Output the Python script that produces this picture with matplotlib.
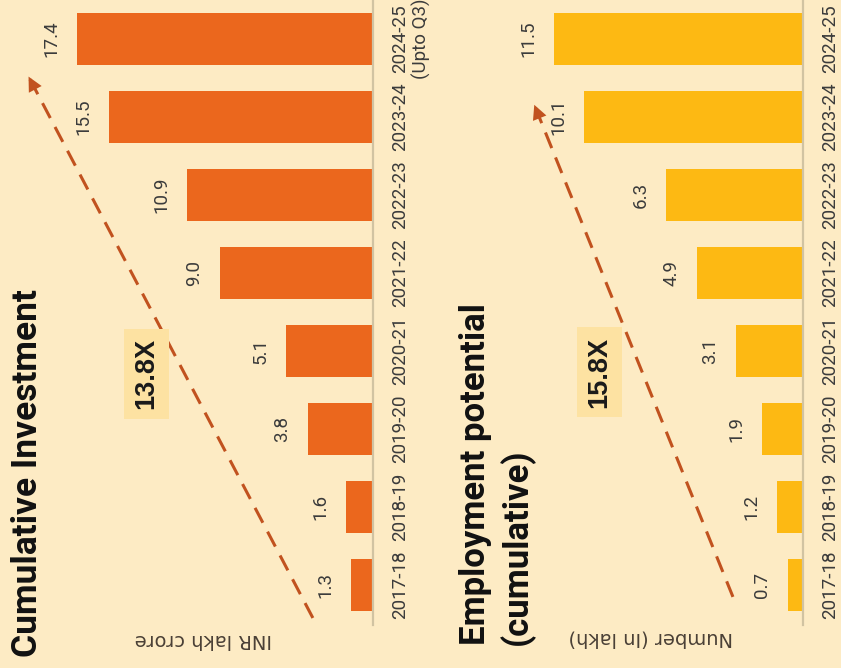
import matplotlib
matplotlib.use('Agg')
import matplotlib.pyplot as plt
from matplotlib import font_manager

# Data
years = ['2017-18', '2018-19', '2019-20', '2020-21', '2021-22',
         '2022-23', '2023-24', '2024-25']
invest = [1.3, 1.6, 3.8, 5.1, 9.0, 10.9, 15.5, 17.4]
jobs = [0.7, 1.2, 1.9, 3.1, 4.9, 6.3, 10.1, 11.5]
invest_growth = '13.8X'
jobs_growth = '15.8X'

BG = '#fdebc4'
ORANGE = '#eb671d'
YELLOW = '#fdb913'
ARROW = '#c1521f'
BOX = '#fde2a2'
BASE = '#d1c3a2'
TXT = '#3b3b3b'

names = {f.name for f in font_manager.fontManager.ttflist}
FONT = 'Roboto' if 'Roboto' in names else 'DejaVu Sans'
BOLD = 'Liberation Sans' if 'Liberation Sans' in names else 'DejaVu Sans'

fig = plt.figure(figsize=(8.41, 6.68), dpi=100, facecolor=BG)


def panel(rect, values, color, xmax, growth, arrow_start, arrow_end, box_at, last_label):
    """One horizontal bar panel, drawn so that it reads rotated by 90 degrees."""
    ax = fig.add_axes(rect)
    ax.set_facecolor(BG)
    pos = range(len(years))
    ax.barh(pos, values, height=0.67, color=color)
    ax.set_xlim(xmax, 0)
    ax.set_ylim(-0.51, 7.5)

    for s in ['top', 'left', 'bottom']:
        ax.spines[s].set_visible(False)
    ax.spines['right'].set_color(BASE)
    ax.spines['right'].set_linewidth(1.6)
    ax.set_xticks([])

    ax.yaxis.tick_right()
    ax.set_yticks(list(pos))
    ax.set_yticklabels(years[:-1] + [last_label], rotation=90, va='center', ha='left',
                       multialignment='center', fontsize=13.5,
                       family=FONT, color=TXT)
    ax.tick_params(axis='y', length=0, pad=13)

    for i, v in enumerate(values):
        ax.annotate(f'{v:.1f}', (v, i), xytext=(-12, 0), textcoords='offset points',
                    ha='right', va='center', rotation=90, fontsize=13.5,
                    family=FONT, color=TXT)

    # dashed growth arrow
    ax.plot([arrow_start[0], arrow_end[0]], [arrow_start[1], arrow_end[1]],
            ls=(0, (5.5, 3.3)), lw=2.2, color=ARROW, clip_on=False)
    dx = (arrow_end[0] - arrow_start[0]) * 0.03
    dy = (arrow_end[1] - arrow_start[1]) * 0.03
    ax.annotate('', xy=arrow_end, xytext=(arrow_end[0] - dx, arrow_end[1] - dy),
                arrowprops=dict(arrowstyle='-|>', color=ARROW, lw=0,
                                mutation_scale=26), annotation_clip=False)

    ax.text(box_at[0], box_at[1], growth, rotation=90, ha='center', va='center',
            fontsize=19.5, fontweight='bold', family=BOLD, color='#1a1a1a',
            bbox=dict(boxstyle='square,pad=0.35', fc=BOX, ec='none'))
    return ax


ax1 = panel([0.0, 0.0644, 0.4435, 0.9356], invest, ORANGE, 21.9, invest_growth,
            (3.53, -0.42), (20.3, 6.55), (13.3, 2.71), years[-1] + '\n(Upto Q3)')
ax2 = panel([0.5113, 0.0644, 0.4435, 0.9356], jobs, YELLOW, 17.2, jobs_growth,
            (3.23, -0.15), (12.44, 6.19), (9.4, 2.73), years[-1])

# the multi-line label sits a little lower, as in the source
ax1.get_yticklabels()[-1].set_y(7.03)

# titles and unit labels
fig.text(28 / 841, 11 / 668, 'Cumulative Investment', rotation=90,
         ha='center', va='bottom', fontsize=25.5, fontweight='bold',
         family=FONT, color='#111111')
fig.text(497 / 841, 23 / 668, 'Employment potential\n(cumulative)', rotation=90,
         ha='center', va='bottom', multialignment='left', linespacing=1.25,
         fontsize=25, fontweight='bold', family=FONT, color='#111111')
fig.text(203 / 841, 28 / 668, 'INR lakh crore', rotation=180, ha='center',
         va='center', fontsize=14, color='#4a4036')
fig.text(651 / 841, 30 / 668, 'Number (In lakh)', rotation=180, ha='center',
         va='center', fontsize=14, color='#4a4036')

fig.savefig('out.png', dpi=100, facecolor=BG)
